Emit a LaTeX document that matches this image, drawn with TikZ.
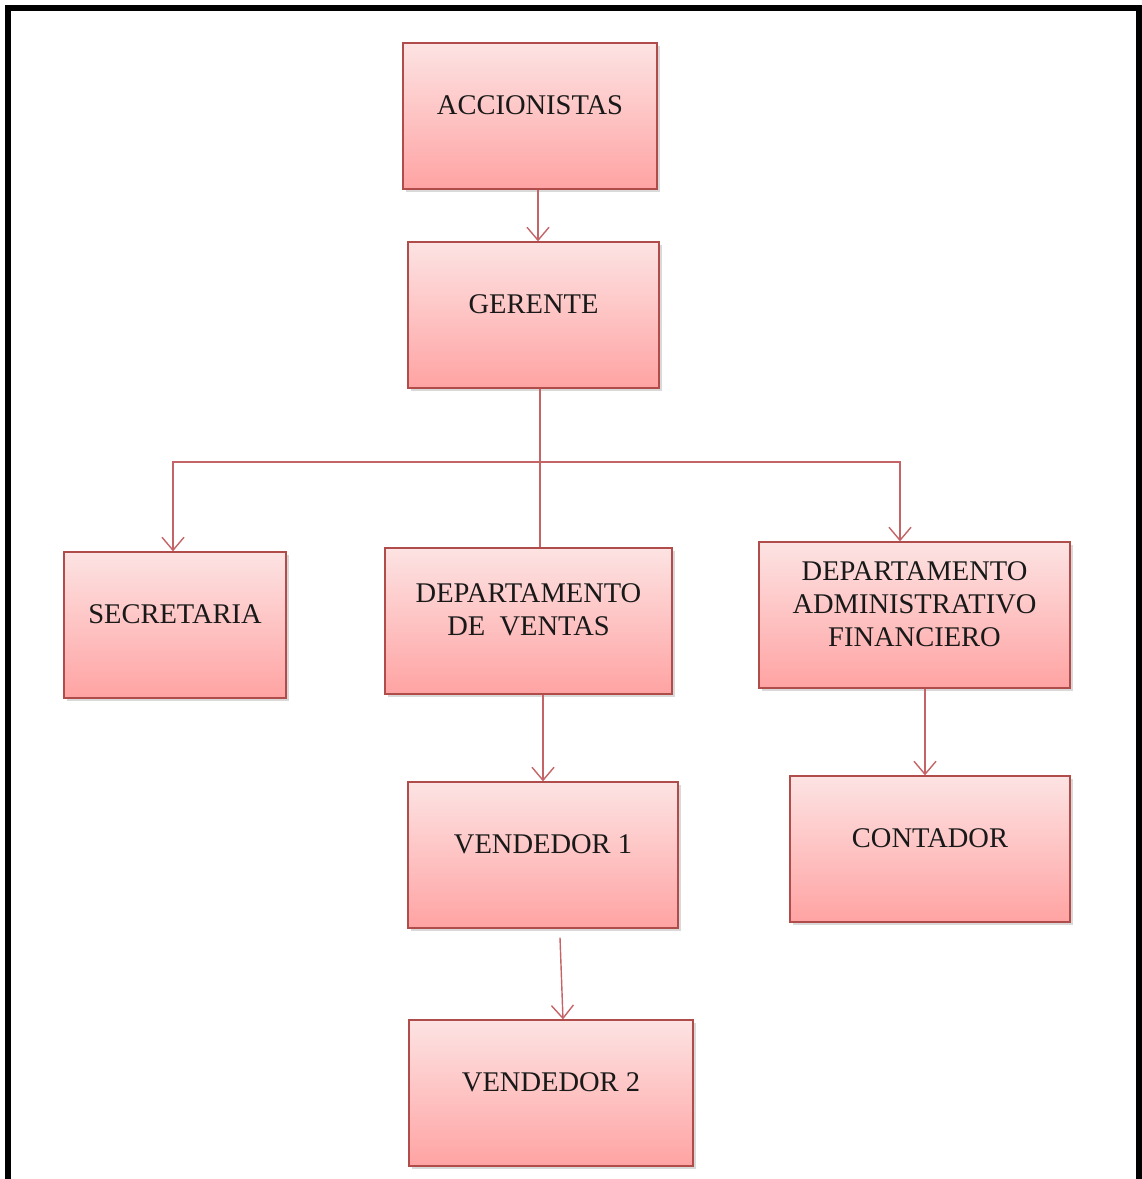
\documentclass[tikz,border=0pt]{standalone}
\usepackage{fontspec}
\setmainfont{Liberation Serif}
\usepackage{tikz}
\usetikzlibrary{arrows.meta,shadows}

\definecolor{boxtop}{HTML}{FDE3E3}
\definecolor{boxbot}{HTML}{FFA3A3}
\definecolor{boxline}{HTML}{B04C4A}
\definecolor{linkline}{HTML}{C46466}

\begin{document}
\begin{tikzpicture}[x=1pt, y=-1pt,
    main/.style = {rectangle, draw=boxline, line width=1.3pt, top color=boxtop, bottom color=boxbot,
        minimum height=146pt, text depth=22pt, align=center, text=black!90,
        font=\fontsize{28.5}{33}\selectfont,
        drop shadow={shadow xshift=2.5pt, shadow yshift=-2.5pt, opacity=0.3}},
    link/.style = {draw=linkline, line width=1.4pt},
    >={Straight Barb[length=13pt, width=22pt]}]
            \useasboundingbox (0,0) rectangle (1142,1179);
            % Frame
            \draw[line width=6pt] (8,1179) -- (8,8) -- (1139,8) -- (1139,1179);

            % Nodes
            \node[main, minimum width=254pt] (acc) at (530,116) {ACCIONISTAS};
            \node[main, minimum width=251pt] (ger) at (533.5,315) {GERENTE};
            \node[main, minimum width=222pt] (sec) at (175,625) {SECRETARIA};
            \node[main, minimum width=287pt] (dv) at (528.5,621) {DEPARTAMENTO\\DE\ \ VENTAS};
            \node[main, minimum width=311pt] (daf) at (914.5,615) {DEPARTAMENTO\\ADMINISTRATIVO\\FINANCIERO};
            \node[main, minimum width=270pt] (v1) at (543,855) {VENDEDOR 1};
            \node[main, minimum width=280pt] (con) at (930,849) {CONTADOR};
            \node[main, minimum width=284pt] (v2) at (551,1093) {VENDEDOR 2};
            \coordinate (bus) at (540,462);

            % Lines
            \draw[link,->] ([xshift=8pt]acc.south) -- ([xshift=4.5pt]ger.north);
            \draw[link] ([xshift=6.5pt]ger.south) -- ([xshift=11.5pt]dv.north);
            \draw[link,->] (bus) -| ([xshift=-2pt]sec.north);
            \draw[link,->] (bus) -| ([xshift=-14.5pt]daf.north);
            \draw[link,->] ([xshift=14.5pt]dv.south) -- (v1.north);
            \draw[link,->] ([xshift=17pt,yshift=-9pt]v1.south) -- ([xshift=12pt]v2.north);
            \draw[link,->] ([xshift=10.5pt]daf.south) -- ([xshift=-5pt]con.north);

        \end{tikzpicture}
\end{document}
